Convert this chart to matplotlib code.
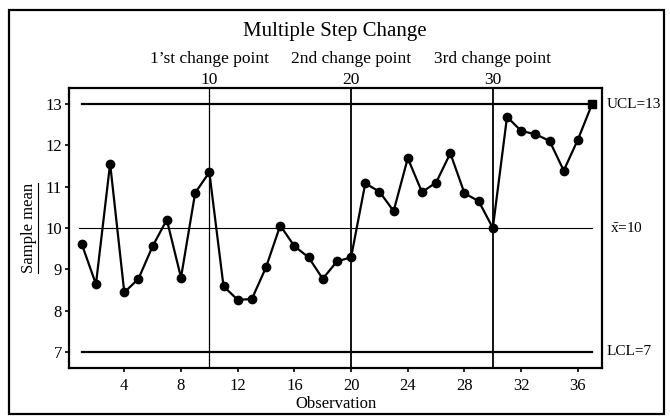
import matplotlib
matplotlib.use('Agg')
from matplotlib import pyplot as plt
from matplotlib.patches import Rectangle
from matplotlib.lines import Line2D

plt.rcParams['font.family'] = ['Liberation Serif', 'DejaVu Serif']
plt.rcParams['mathtext.fontset'] = 'custom'
plt.rcParams['mathtext.rm'] = 'Liberation Serif'
plt.rcParams['mathtext.it'] = 'Liberation Serif:italic'

# sample means per observation
obs = list(range(1, 38))
means = [9.61, 8.64, 11.56, 8.44, 8.77, 9.56, 10.20, 8.80, 10.85, 11.35,
         8.59, 8.26, 8.28, 9.05, 10.06, 9.56, 9.29, 8.77, 9.19, 9.29,
         11.08, 10.88, 10.41, 11.69, 10.87, 11.10, 11.81, 10.84, 10.65, 10.00,
         12.69, 12.35, 12.27, 12.11, 11.39, 12.14, 13.00]

ucl, center, lcl = 13, 10, 7
change_points = [10, 20, 30]
change_names = ["1\u2019st change point", "2nd change point", "3rd change point"]
xticks = [4, 8, 12, 16, 20, 24, 28, 32, 36]
yticks = [7, 8, 9, 10, 11, 12, 13]

fig = plt.figure(figsize=(6.7, 4.16), dpi=100)
ax = fig.add_axes([0.103, 0.1154, 0.7955, 0.6731])

# control limits
ax.plot([1, 37], [ucl, ucl], color='black', lw=1.6)
ax.plot([1, 37], [lcl, lcl], color='black', lw=1.6)
ax.plot([0.8, 37], [center, center], color='black', lw=0.8)

# change point lines
for cp, w in zip(change_points, [0.9, 1.3, 1.3]):
    ax.axvline(cp, color='black', lw=w)

ax.plot(obs[:-1], means[:-1], color='black', lw=1.6, marker='o', ms=6)
ax.plot(obs[-2:], means[-2:], color='black', lw=1.6)
ax.plot(obs[-1], means[-1], color='black', marker='s', ms=6)

ax.set_xlim(0.1, 37.7)
ax.set_ylim(6.61, 13.39)
ax.set_xticks(xticks)
ax.set_yticks(yticks)
ax.tick_params(direction='out', length=3, width=1.2, labelsize=12, pad=2)
ax.tick_params(axis='x', pad=4)
for s in ax.spines.values():
    s.set_linewidth(1.6)

ax.set_xlabel('Observation', fontsize=12, labelpad=2)
ylab = ax.set_ylabel('Sample mean', fontsize=12, labelpad=6)

# change point labels above the axes
for cp, name in zip(change_points, change_names):
    ax.text(cp, 14.1, name, ha='center', va='center', fontsize=12.5)
    ax.text(cp, 13.58, str(cp), ha='center', va='center', fontsize=12.5)

# limit labels on the right
ax.text(1.008, (ucl - 6.61) / 6.78, 'UCL=13', transform=ax.transAxes,
        ha='left', va='center', fontsize=11)
ax.text(1.015, (center - 6.61) / 6.78, r'$\bar{\mathrm{x}}$=10', transform=ax.transAxes,
        ha='left', va='center', fontsize=11)
ax.text(1.008, (lcl - 6.61) / 6.78, 'LCL=7', transform=ax.transAxes,
        ha='left', va='center', fontsize=11)

fig.text(0.5, 0.925, 'Multiple Step Change', ha='center', va='center', fontsize=15)

# underline the rotated y label (bottom of glyphs faces right)
fig.canvas.draw()
bb = ylab.get_window_extent()
ux = (bb.x1 + 1) / fig.bbox.width
fig.add_artist(Line2D([ux, ux], [bb.y0 / fig.bbox.height, bb.y1 / fig.bbox.height],
                      transform=fig.transFigure, color='black', lw=0.8))

# outer frame
fig.patches.append(Rectangle((0.0134, 0.005), 0.978, 0.971, transform=fig.transFigure,
                             fill=False, edgecolor='black', lw=1.6))

fig.savefig('out.png', dpi=100)
